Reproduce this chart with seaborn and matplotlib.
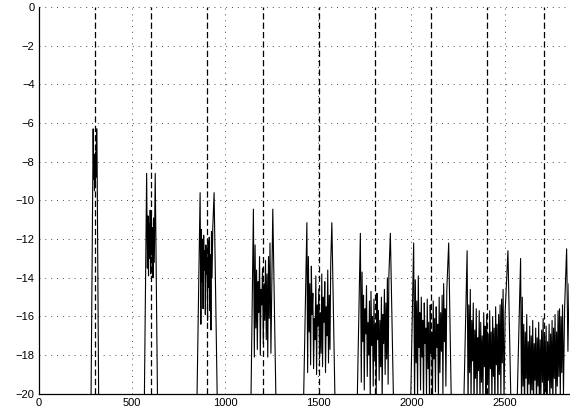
import numpy as np
import pandas as pd
import seaborn as sns
import matplotlib.pyplot as plt

# harmonic frequencies (dashed markers)
harmonics = [301, 602, 903, 1204, 1505, 1806, 2107, 2408, 2709]

# spectral lobes around each harmonic: frequency (Hz) and level (dB)
lobe1_f = [280, 292, 295, 297, 299, 301, 303, 305, 307, 310, 312, 322]
lobe1_db = [-21, -6.3, -8.9, -7.6, -9.5, -8.1, -9.3, -7.5, -8.8, -6.3, -6.3, -21]

lobe2_f = [566, 579, 583, 586, 589, 592, 595, 598, 601, 604, 607, 610, 613, 616, 620, 625, 638]
lobe2_db = [-21, -8.6, -13.5, -10.8, -13.9, -11.2, -13.0, -10.5, -13.8, -10.6, -12.8, -11.4,
            -14.0, -10.9, -13.2, -8.6, -21]

lobe3_f = [848, 866, 870, 873, 876, 879, 882, 885, 888, 891, 894, 897, 900, 903, 906, 909,
           912, 915, 918, 921, 924, 927, 930, 934, 941, 959]
lobe3_db = [-21, -9.6, -16.4, -11.5, -14.2, -12.0, -15.6, -11.8, -13.6, -12.6, -15.9, -12.3,
            -13.8, -13.1, -16.2, -12.1, -14.5, -11.9, -15.7, -12.8, -16.7, -11.6, -14.0,
            -11.4, -9.6, -21]

lobe4_f = [1138, 1152, 1157, 1161, 1165, 1169, 1173, 1177, 1181, 1185, 1189, 1193, 1197,
           1201, 1205, 1209, 1213, 1217, 1221, 1225, 1229, 1233, 1237, 1241, 1246, 1256, 1274]
lobe4_db = [-21, -10.45, -18.1, -12.3, -16.6, -13.6, -17.7, -14.2, -15.8, -12.9, -18.0,
            -14.6, -15.4, -13.5, -17.4, -14.3, -16.2, -13.1, -17.2, -13.8, -18.1, -12.9,
            -16.1, -12.2, -17.9, -10.45, -21]

lobe5_f = [1420, 1439, 1443, 1447, 1451, 1455, 1459, 1463, 1467, 1471, 1475, 1479, 1483,
           1487, 1491, 1495, 1499, 1503, 1507, 1511, 1515, 1519, 1523, 1527, 1531, 1535,
           1539, 1543, 1547, 1551, 1555, 1559, 1563, 1567, 1573, 1591]
lobe5_db = [-21, -11.15, -18.9, -12.9, -16.8, -14.3, -18.5, -13.4, -15.9, -14.8, -18.7,
            -16.1, -17.2, -13.9, -19.0, -15.4, -16.5, -14.6, -18.2, -15.8, -17.9, -13.8,
            -18.6, -15.0, -16.3, -14.2, -18.9, -15.5, -17.0, -13.6, -18.4, -14.9, -17.7,
            -13.2, -11.15, -21]

lobe6_f = [1708, 1726, 1731, 1735, 1739, 1743, 1747, 1751, 1755, 1759, 1763, 1767, 1771,
           1775, 1779, 1783, 1787, 1791, 1795, 1799, 1803, 1807, 1811, 1815, 1819, 1823,
           1827, 1831, 1835, 1839, 1843, 1847, 1851, 1855, 1859, 1863, 1867, 1871, 1875,
           1879, 1887, 1905]
lobe6_db = [-21, -11.7, -19.4, -13.7, -17.3, -14.9, -19.8, -15.6, -16.9, -14.4, -19.1,
            -16.3, -18.0, -15.2, -20.3, -14.7, -17.5, -16.0, -19.6, -15.1, -18.3, -16.4,
            -20.1, -14.8, -17.2, -15.7, -19.3, -16.2, -18.6, -15.0, -20.4, -15.9, -17.4,
            -14.6, -19.0, -15.3, -18.2, -14.0, -19.5, -13.9, -11.7, -21]

lobe7_f = [1995, 2012, 2017, 2021, 2025, 2029, 2033, 2037, 2041, 2045, 2049, 2053, 2057,
           2061, 2065, 2069, 2073, 2077, 2081, 2085, 2089, 2093, 2097, 2101, 2105, 2109,
           2113, 2117, 2121, 2125, 2129, 2133, 2137, 2141, 2145, 2149, 2153, 2157, 2161,
           2165, 2169, 2173, 2177, 2181, 2185, 2190, 2200, 2215]
lobe7_db = [-21, -12.2, -20.5, -14.1, -18.4, -15.2, -20.3, -13.9, -17.6, -15.8, -19.8,
            -15.0, -18.1, -16.2, -20.6, -15.3, -17.4, -16.6, -20.1, -15.1, -18.7, -16.3,
            -20.5, -15.4, -17.9, -16.8, -20.7, -15.2, -18.2, -16.1, -19.9, -15.5, -17.6,
            -16.4, -20.2, -15.0, -18.9, -15.8, -17.8, -14.9, -20.0, -14.3, -17.3, -15.6,
            -19.6, -14.6, -12.2, -21]

lobe8_f = [2280, 2299, 2304, 2308, 2312, 2316, 2320, 2324, 2328, 2332, 2336, 2340, 2344,
           2348, 2352, 2356, 2360, 2364, 2368, 2372, 2376, 2380, 2384, 2388, 2392, 2396,
           2400, 2404, 2408, 2412, 2416, 2420, 2424, 2428, 2432, 2436, 2440, 2444, 2448,
           2452, 2456, 2460, 2464, 2468, 2472, 2476, 2480, 2484, 2488, 2492, 2497, 2503,
           2518, 2535]
lobe8_db = [-21, -12.6, -20.8, -15.4, -18.9, -14.6, -20.4, -16.2, -18.3, -15.3, -20.9,
            -16.7, -19.2, -15.6, -20.6, -17.1, -18.8, -15.7, -20.8, -16.3, -19.4, -17.0,
            -20.3, -15.8, -18.6, -16.5, -21.0, -15.9, -19.3, -16.9, -20.7, -15.7, -18.7,
            -16.8, -20.5, -16.0, -19.1, -16.6, -20.9, -15.5, -18.5, -16.4, -20.6, -15.9,
            -19.0, -15.4, -20.2, -15.1, -18.4, -14.6, -20.4, -15.8, -12.6, -21]

lobe9_f = [2566, 2586, 2591, 2595, 2599, 2603, 2607, 2611, 2615, 2619, 2623, 2627, 2631,
           2635, 2639, 2643, 2647, 2651, 2655, 2659, 2663, 2667, 2671, 2675, 2679, 2683,
           2687, 2691, 2695, 2699, 2703, 2707, 2711, 2715, 2719, 2723, 2727, 2731, 2735,
           2739, 2743, 2747, 2751, 2755, 2759, 2763, 2767, 2771, 2775, 2779, 2783, 2787,
           2791, 2795, 2799, 2803, 2807, 2811, 2816, 2822, 2833, 2840, 2846]
lobe9_db = [-21, -13.0, -20.9, -15.0, -19.6, -16.4, -21.0, -16.8, -19.2, -15.9, -20.7,
            -17.3, -19.5, -16.5, -20.6, -17.0, -19.8, -16.2, -21.0, -17.4, -19.3, -16.6,
            -20.8, -17.1, -19.6, -16.3, -21.0, -17.2, -20.0, -16.7, -19.4, -16.1, -20.9,
            -17.0, -19.9, -16.5, -21.0, -17.3, -19.3, -16.4, -20.6, -16.9, -19.7, -16.2,
            -20.8, -16.6, -19.2, -15.9, -20.5, -16.8, -19.6, -15.7, -19.1, -15.6, -20.2,
            -16.0, -18.9, -15.4, -20.0, -15.6, -12.5, -17.8, -14.3]

lobes_f = [lobe1_f, lobe2_f, lobe3_f, lobe4_f, lobe5_f, lobe6_f, lobe7_f, lobe8_f, lobe9_f]
lobes_db = [lobe1_db, lobe2_db, lobe3_db, lobe4_db, lobe5_db, lobe6_db, lobe7_db, lobe8_db, lobe9_db]

frames = []
for k, (f, db) in enumerate(zip(lobes_f, lobes_db)):
    frames.append(pd.DataFrame({'freq': f, 'level': db, 'lobe': k + 1}))
df = pd.concat(frames, ignore_index=True)

sns.set_theme(style="white")
plt.rcParams['font.family'] = ['Liberation Sans', 'DejaVu Sans']

fig = plt.figure(figsize=(5.7, 4.12), dpi=100)
ax = fig.add_axes([0.068, 0.044, 0.93, 0.939])

sns.lineplot(data=df, x='freq', y='level', units='lobe', estimator=None, sort=False,
             color='black', linewidth=0.8, ax=ax, legend=False)
ax.vlines(harmonics, -20, 0, colors='black', linestyles=(0, (5, 2.5)), linewidth=0.9)

ax.set_xlim(0, 2845)
ax.set_ylim(-20, 0)
ax.set_xticks([0, 500, 1000, 1500, 2000, 2500])
ax.set_yticks(np.arange(-20, 1, 2))
ax.set_xlabel('')
ax.set_ylabel('')
ax.grid(True, linestyle=(0, (1, 5)), color='0.3', linewidth=0.7)
ax.set_axisbelow(True)

for side in ['top', 'right']:
    ax.spines[side].set_visible(False)
for side in ['left', 'bottom']:
    ax.spines[side].set_color('black')
    ax.spines[side].set_linewidth(0.9)
ax.tick_params(direction='in', length=3, width=0.8, labelsize=8, colors='black', pad=3)

fig.savefig('out.png', dpi=100)
